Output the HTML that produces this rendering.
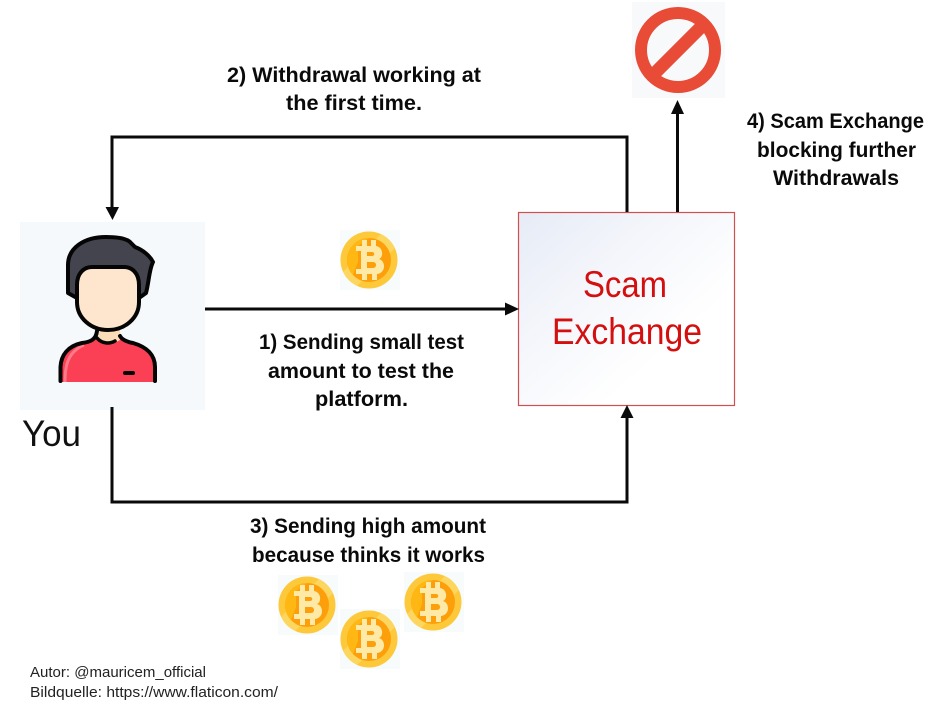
<!DOCTYPE html>
<html><head><meta charset="utf-8"><style>
html,body{margin:0;padding:0;background:#fff;}
svg{display:block;}
.b{font:bold 21.5px "Liberation Sans",sans-serif;fill:#0a0a0a;}
.s{font:15px "Liberation Sans",sans-serif;fill:#222;}
</style></head><body>
<svg width="942" height="710" viewBox="0 0 942 710" xmlns="http://www.w3.org/2000/svg">
<defs>
<linearGradient id="g" x1="0" y1="0" x2="1" y2="1"><stop offset="0" stop-color="#e6ebf6"/><stop offset=".35" stop-color="#f4f6fb"/><stop offset=".7" stop-color="#fff"/><stop offset="1" stop-color="#fff"/></linearGradient>
<g id="coin">
<rect x="-29" y="-30" width="60" height="60" fill="#f8fbfc"/>
<circle r="28.5" fill="#fdc93a"/>
<path d="M12-26A28.500 28.500 0 0 1 26-12L-12 26A28.500 28.500 0 0 1-26 12Z" fill="#fde07a" opacity=".6"/>
<circle r="22" fill="#fd9f0b"/>
<path d="M0-22A22 22 0 0 0-16 15L-11 2V-14Z" fill="#ffb813"/>
<path d="M-13-14H-7V-20H-2V-14H2V-20H7V-14C14-13 15-3 10-1C17 1 17 13 8 14V20H3V14H-2V20H-7V14H-13V9H-8V-9H-13Z" fill="#fee9a6"/>
<path d="M-2-8V-4H3C6-4 6-8 3-8ZM-2 2V8H4C8 8 8 2 4 2Z" fill="#fd9f0b"/>
</g>
</defs>
<rect width="942" height="710" fill="#fff"/>

<rect x="20" y="222" width="185" height="188" fill="#f5f9fb"/>
<path d="M68 293V265C68 248 84 237 106 237C116 237 127 238 131 243L135 247C143 250 150 256 153 262C149 270 149 282 146 293L139 298H77Z" fill="#43444e" stroke="#050505" stroke-width="4" stroke-linejoin="round"/>
<path d="M60 382V367C61 355 68 346 82 342L96 338H122L133 342C147 347 155 355 155 367V382Z" fill="#fb3f54"/>
<path d="M65 382C65 365 68 352 84 345" fill="none" stroke="#fd7b89" stroke-width="3"/>
<path d="M97 328V338C103 344 114 344 120 340V328Z" fill="#fadcb9"/>
<path d="M60.500 381V367C61 355 68 346 82 343C90 342 96 340 97 331" fill="none" stroke="#050505" stroke-width="4" stroke-linecap="round"/>
<path d="M155 381V367C155 355 147 347 133 343C128 342 122 340 120 336" fill="none" stroke="#050505" stroke-width="4" stroke-linecap="round"/>
<path d="M97 338C102 344 110 344 115 341" fill="none" stroke="#050505" stroke-width="3.500" stroke-linecap="round"/>
<rect x="123" y="371" width="12" height="4" rx="2" fill="#050505"/>
<path d="M77 285C77 273 84 267 92 267H124C132 267 139 273 139 285V302C139 318 125 330 108 330C91 330 77 318 77 302Z" fill="#fde6cd" stroke="#050505" stroke-width="4"/>

<rect x="632" y="2" width="93" height="96" fill="#f7f9fb"/>
<circle cx="678" cy="50" r="37" fill="none" stroke="#e84b36" stroke-width="12"/>
<path d="M652 76L704 24" stroke="#e84b36" stroke-width="13"/>

<use href="#coin" x="369" y="260"/>
<use href="#coin" x="307" y="605"/>
<use href="#coin" x="433" y="602"/>
<use href="#coin" x="369" y="639"/>

<rect x="518.500" y="212.500" width="216" height="193" fill="url(#g)" stroke="#d05050" stroke-width="1.200"/>
<g fill="none" stroke="#0a0a0a" stroke-width="3">
<path d="M627 212V137H112V210"/>
<path d="M205 309H508"/>
<path d="M112 407V502H627V416"/>
<path d="M677.500 212V112"/>
</g>
<g fill="#0a0a0a">
<path d="M105.500 207H119L112.500 220Z"/>
<path d="M505 302.500L519 309L505 315.500Z"/>
<path d="M620.500 418L627 405L633.500 418Z"/>
<path d="M671 114L677.500 100L684 114Z"/>
</g>

<g class="b">
<text x="227" y="82" textLength="254" lengthAdjust="spacingAndGlyphs">2) Withdrawal working at</text>
<text x="286" y="110" textLength="136" lengthAdjust="spacingAndGlyphs">the first time.</text>
<text x="747" y="128" textLength="177" lengthAdjust="spacingAndGlyphs">4) Scam Exchange</text>
<text x="757" y="157" textLength="159" lengthAdjust="spacingAndGlyphs">blocking further</text>
<text x="773" y="185" textLength="126" lengthAdjust="spacingAndGlyphs">Withdrawals</text>
<text x="259" y="349" textLength="205" lengthAdjust="spacingAndGlyphs">1) Sending small test</text>
<text x="268" y="378" textLength="186" lengthAdjust="spacingAndGlyphs">amount to test the</text>
<text x="315" y="406" textLength="93" lengthAdjust="spacingAndGlyphs">platform.</text>
<text x="250" y="533" textLength="236" lengthAdjust="spacingAndGlyphs">3) Sending high amount</text>
<text x="252" y="562" textLength="233" lengthAdjust="spacingAndGlyphs">because thinks it works</text>
</g>
<g font-family="'Liberation Sans',sans-serif" font-size="37" fill="#d40f0f">
<text x="583" y="297" textLength="84" lengthAdjust="spacingAndGlyphs">Scam</text>
<text x="552" y="344" textLength="150" lengthAdjust="spacingAndGlyphs">Exchange</text>
</g>
<text x="22" y="446" font-family="'Liberation Sans',sans-serif" font-size="37" fill="#111" textLength="59" lengthAdjust="spacingAndGlyphs">You</text>
<text class="s" x="30" y="677" textLength="176" lengthAdjust="spacingAndGlyphs">Autor: @mauricem_official</text>
<text class="s" x="30" y="697" textLength="248" lengthAdjust="spacingAndGlyphs">Bildquelle: https://www.flaticon.com/</text>
</svg>
</body></html>
